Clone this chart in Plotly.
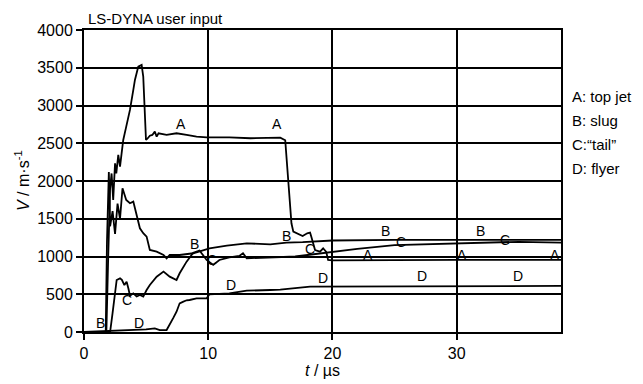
import plotly.graph_objects as go

# ---- data ----
t_A = [0, 1.8, 1.95, 2.1, 2.22, 2.35, 2.5, 2.6, 2.76, 2.9, 3.03, 3.16, 3.4, 3.7, 3.97, 4.1, 4.37,
       4.64, 4.77, 4.9, 4.99, 5.1, 5.3, 5.5, 5.7, 5.85, 6.0, 6.65, 7.45, 8.26, 9.06, 9.87, 11.7,
       13.4, 14.7, 15.8, 16.2, 16.45, 16.7, 16.85, 17.1, 17.4, 17.6, 17.97, 18.2, 18.3, 18.45,
       18.6, 19.0, 19.25, 19.5, 19.65, 20.0, 25.0, 30.0, 35.0, 38.4]
v_A = [0, 0, 1000, 1900, 2100, 1750, 2235, 2100, 2345, 2190, 2368, 2544, 2720, 2941, 3206, 3339,
       3515, 3538, 3383, 2941, 2544, 2560, 2600, 2610, 2654, 2588, 2632, 2610, 2632, 2610, 2588,
       2579, 2579, 2566, 2566, 2575, 2540, 2000, 1440, 1329, 1308, 1285, 1272, 1308, 1316, 1263,
       1153, 1086, 1064, 1109, 1060, 954, 950, 955, 955, 955, 955]

t_B = [0, 1.75, 1.85, 2.0, 2.1, 2.3, 2.5, 2.7, 2.9, 3.1, 3.4, 3.7, 3.97, 4.24, 4.5, 4.77, 5.04,
       5.3, 5.85, 6.4, 6.65, 6.9, 7.7, 8.8, 9.6, 10.1, 11.5, 13.1, 15.0, 16.3, 17.6, 20.0, 25.0,
       30.0, 35.0, 38.4]
v_B = [0, 0, 1200, 2120, 1400, 1600, 1300, 1700, 1500, 1904, 1749, 1705, 1727, 1528, 1374, 1308,
       1263, 1087, 1064, 1020, 976, 1020, 1020, 1043, 1087, 1109, 1143, 1175, 1160, 1184, 1190,
       1212, 1220, 1222, 1222, 1220]

t_C = [0, 2.1, 2.3, 2.63, 2.9, 3.05, 3.25, 3.43, 3.57, 3.7, 3.97, 4.24, 4.5, 4.77, 5.04, 5.3,
       5.85, 6.4, 6.9, 7.45, 7.7, 8.26, 8.8, 9.3, 9.87, 10.4, 10.9, 11.7, 12.5, 12.8, 13.1, 15.8,
       17.0, 18.0, 19.0, 20.0, 22.0, 25.0, 28.0, 30.0, 33.0, 35.0, 38.4]
v_C = [0, 0, 250, 689, 711, 690, 622, 666, 580, 480, 512, 470, 490, 468, 556, 622, 733, 800, 733,
       689, 778, 932, 1051, 1080, 954, 888, 954, 990, 1007, 1043, 976, 990, 1000, 1020, 1040,
       1064, 1100, 1150, 1165, 1175, 1190, 1195, 1185]

t_D = [0, 3.97, 4.37, 5.0, 5.7, 6.1, 6.65, 6.9, 7.2, 7.45, 7.7, 8.0, 8.26, 8.5, 9.06, 9.87,
       10.1, 11.7, 13.1, 15.0, 15.8, 18.2, 20.0, 27.8, 38.4]
v_D = [0, 26, 26, 35, 49, 26, 26, 93, 190, 269, 380, 402, 420, 424, 446, 446, 499, 512, 547,
       556, 560, 600, 600, 610, 610]

# curve labels placed on the chart
lab_text = ["A", "A", "A", "A", "A",
            "B", "B", "B", "B", "B",
            "C", "C", "C", "C", "C",
            "D", "D", "D", "D", "D"]
lab_t = [7.8, 15.5, 22.85, 30.4, 37.9,
         1.3, 8.9, 16.3, 24.3, 31.9,
         3.46, 10.3, 18.2, 25.5, 33.9,
         4.4, 11.8, 19.2, 27.2, 34.9]
lab_v = [2756, 2756, 1020, 1020, 1020,
         119, 1166, 1272, 1338, 1338,
         424, 954, 1100, 1193, 1219,
         119, 623, 715, 742, 742]

legend_lines = ["A: top jet", "B: slug", "C:\u201ctail\u201d", "D: flyer"]

x_ticks = [0, 10, 20, 30]
y_ticks = [0, 500, 1000, 1500, 2000, 2500, 3000, 3500, 4000]

FONT = "Liberation Sans, Arial, sans-serif"

fig = go.Figure()
for tt, vv in [(t_A, v_A), (t_B, v_B), (t_C, v_C), (t_D, v_D)]:
    fig.add_trace(go.Scatter(x=tt, y=vv, mode="lines",
                             line=dict(color="black", width=1.8), showlegend=False,
                             hoverinfo="skip"))

for s, x, y in zip(lab_text, lab_t, lab_v):
    fig.add_annotation(x=x, y=y, text=s, showarrow=False, xref="x", yref="y",
                       font=dict(family=FONT, size=14, color="black"))

for i, s in enumerate(legend_lines):
    fig.add_annotation(x=1.0, y=0.78 - i * 0.08, xref="paper", yref="paper",
                       text=s, showarrow=False, xanchor="left", yanchor="middle", xshift=9,
                       font=dict(family=FONT, size=15, color="black"))

fig.add_annotation(x=0, y=1, xref="paper", yref="paper", text="LS-DYNA user input",
                   showarrow=False, xanchor="left", yanchor="bottom", xshift=2, yshift=1,
                   font=dict(family=FONT, size=15, color="black"))

# y-axis title placed as rotated text
fig.add_annotation(x=0, y=0.5, xref="paper", yref="paper",
                   text="<i>V</i> / m·s<sup>-1</sup>", showarrow=False, textangle=-90,
                   xanchor="center", yanchor="middle", xshift=-62,
                   font=dict(family=FONT, size=16, color="black"))

fig.update_layout(
    width=643, height=384,
    margin=dict(l=84, r=82, t=30, b=52, autoexpand=False),
    paper_bgcolor="white", plot_bgcolor="white",
    font=dict(family=FONT, size=16, color="black"),
    xaxis=dict(range=[0, 38.4], tickvals=x_ticks, ticks="outside", ticklen=6,
               tickwidth=2, tickcolor="black", automargin=False,
               showgrid=True, gridcolor="black", gridwidth=2,
               showline=True, linecolor="black", linewidth=2, mirror=True,
               zeroline=False, title=dict(text="<i>t</i> / µs", standoff=2,
                                          font=dict(size=16))),
    yaxis=dict(range=[0, 4000], tickvals=y_ticks, ticks="outside", ticklen=6,
               tickwidth=2, tickcolor="black", automargin=False,
               showgrid=True, gridcolor="black", gridwidth=2,
               showline=True, linecolor="black", linewidth=2, mirror=True,
               zeroline=False),
)

fig.write_html("out.html", config={"displayModeBar": False},
               post_script="document.body.style.margin='0';document.body.style.overflow='hidden';")
